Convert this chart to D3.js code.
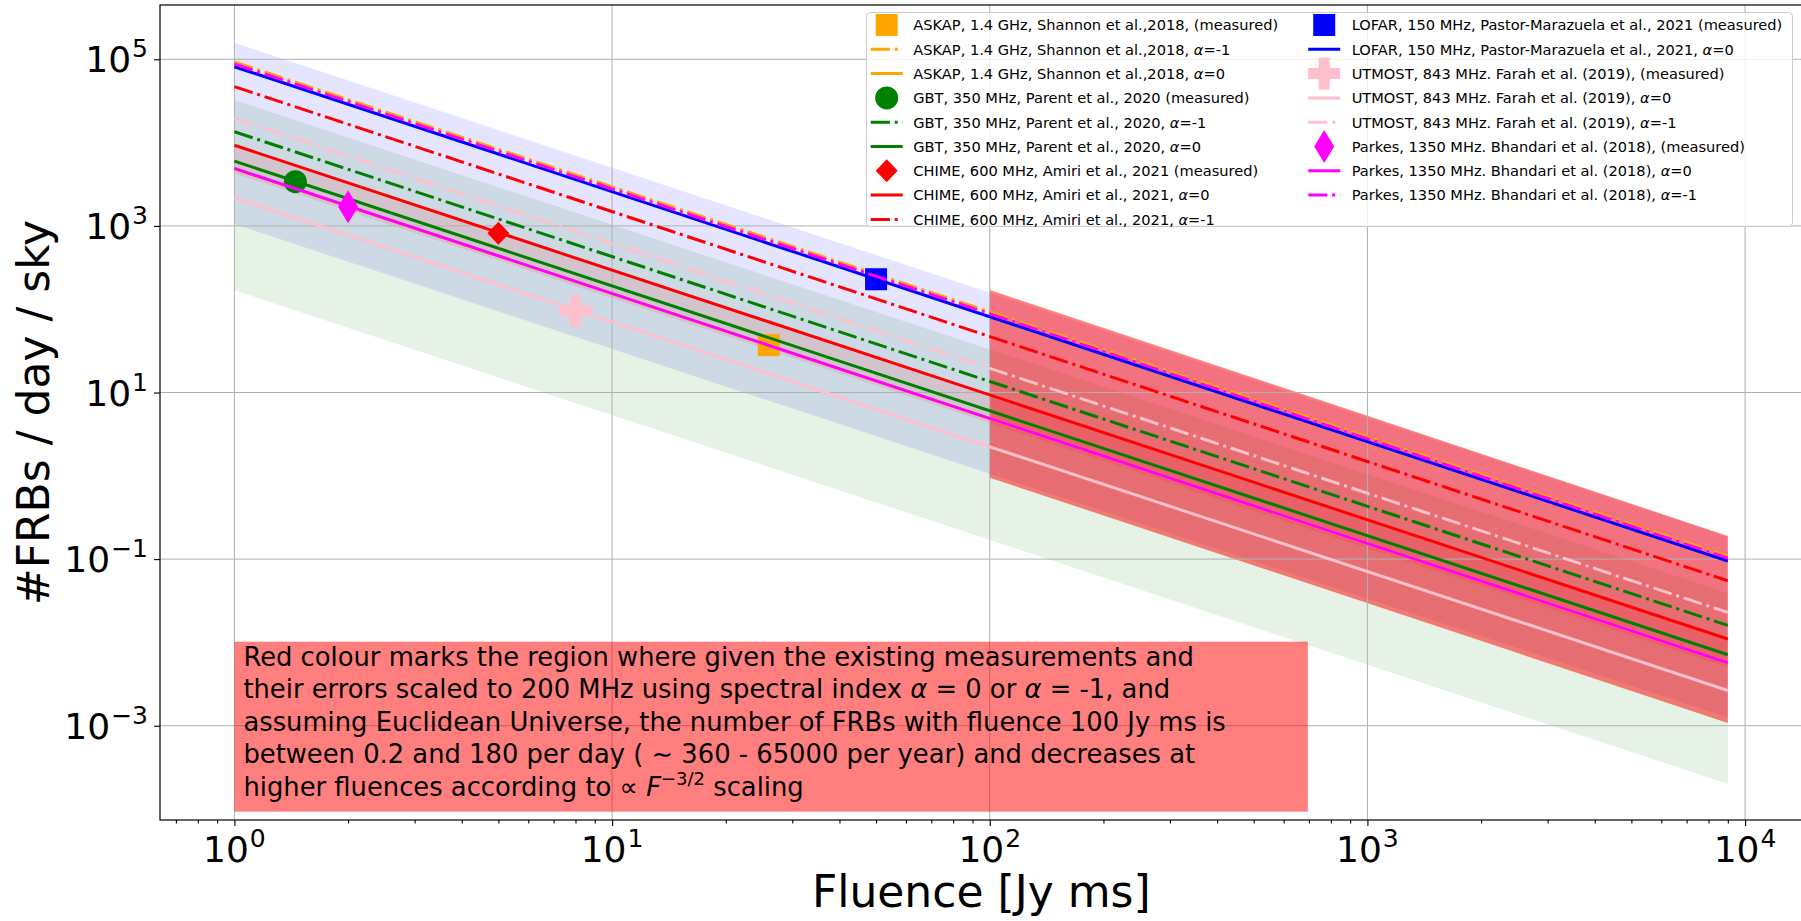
<!DOCTYPE html>
<html>
<head>
<meta charset="utf-8">
<script src="https://cdn.jsdelivr.net/npm/d3@7"></script>
<style>
  body { margin: 0; background: #fff; }
  svg { display: block; font-family: "DejaVu Sans", sans-serif; }
</style>
</head>
<body>
<div id="chart"></div>
<script>
//////////////////// data ////////////////////

// every scaled line is straight in log-log: fluence [Jy ms] at its two ends
const fluenceEnds = [1, 9000];
// rate [#FRBs / day / sky] at fluence 1 and at fluence 9000
const askapAlpha0  = [4.85e3, 5.7e-3];
const askapAlphaM1 = [9.3e4, 0.109];
const gbtAlpha0    = [6.0e3, 7.1e-3];
const gbtAlphaM1   = [1.35e4, 0.0160];
const chimeAlpha0  = [9.3e3, 0.0110];
const chimeAlphaM1 = [4.7e4, 0.055];
const lofarAlpha0  = [8.15e4, 0.0950];
const utmostAlpha0  = [2.2e3, 2.65e-3];
const utmostAlphaM1 = [1.95e4, 0.0229];
const parkesAlpha0  = [4.9e3, 5.7e-3];
const parkesAlphaM1 = [8.8e4, 0.103];

// measured points: fluence [Jy ms] and rate
const surveys       = ["ASKAP", "GBT", "CHIME", "LOFAR", "UTMOST", "Parkes"];
const measuredFluence = [26, 1.45, 5, 50, 8, 2];
const measuredRate    = [37, 3400, 815, 229, 95, 1700];

// shaded error bands, [upper at start, upper at end], [lower at start, lower at end]
const lofarBandUpper = [1.58e5, 0.185];
const lofarBandLower = [1.05e3, 1.25e-3];
const gbtBandUpper   = [3.25e4, 0.039];
const gbtBandLower   = [169, 2.0e-4];
const chimeBandUpper = [9.1e3, 0.0107];
const chimeBandLower = [4.3e3, 5.0e-3];
// red region only covers fluence 100 .. 9000
const redFluence    = [100, 9000];
const redBandUpper  = [170, 0.19];
const redBandLower  = [0.95, 1.08e-3];

// axes
const xLimits = [0.6353, 14191];
const yLimits = [7.38e-5, 4.487e5];
const xMajor = [1, 10, 100, 1000, 10000];
const yMajor = [1e-3, 1e-1, 1e1, 1e3, 1e5];

//////////////////// set up ////////////////////

const width = 1801, height = 921;
const plot = {left: 160, right: 1802.5, top: 5, bottom: 820};

let svg = d3.select("#chart")
            .append("svg")
            .attr("width", width)
            .attr("height", height);

let x = d3.scaleLog().domain(xLimits).range([plot.left, plot.right]);
let y = d3.scaleLog().domain(yLimits).range([plot.bottom, plot.top]);

svg.append("clipPath").attr("id", "plotClip")
   .append("rect")
   .attr("x", plot.left).attr("y", plot.top)
   .attr("width", plot.right - plot.left).attr("height", plot.bottom - plot.top);

let plotArea = svg.append("g").attr("clip-path", "url(#plotClip)");

// helpers to turn two-point arrays into point lists
function pts(fl, vals) { return fl.map((f, i) => ({f: f, v: vals[i]})); }
function bandPts(fl, up, lo) { return fl.map((f, i) => ({f: f, hi: up[i], lo: lo[i]})); }

let area = d3.area()
             .x(d => x(d.f))
             .y0(d => y(d.lo))
             .y1(d => y(d.hi));
let line = d3.line()
             .x(d => x(d.f))
             .y(d => y(d.v));

//////////////////// bands ////////////////////

const bands = [
  {f: fluenceEnds, up: lofarBandUpper, lo: lofarBandLower, color: "blue", op: 0.1},
  {f: fluenceEnds, up: gbtBandUpper,   lo: gbtBandLower,   color: "green", op: 0.1},
  {f: fluenceEnds, up: chimeBandUpper, lo: chimeBandLower, color: "red", op: 0.1},
  {f: redFluence,  up: redBandUpper,   lo: redBandLower,   color: "red", op: 0.5}
];
plotArea.selectAll("path.band")
        .data(bands)
        .enter()
        .append("path")
        .attr("class", "band")
        .attr("d", d => area(bandPts(d.f, d.up, d.lo)))
        .attr("fill", d => d.color)
        .attr("fill-opacity", d => d.op);

//////////////////// grid ////////////////////

plotArea.selectAll("line.xgrid")
        .data(xMajor).enter().append("line")
        .attr("x1", d => x(d)).attr("x2", d => x(d))
        .attr("y1", plot.top).attr("y2", plot.bottom)
        .attr("stroke", "#b0b0b0").attr("stroke-width", 1);
plotArea.selectAll("line.ygrid")
        .data(yMajor).enter().append("line")
        .attr("y1", d => y(d)).attr("y2", d => y(d))
        .attr("x1", plot.left).attr("x2", plot.right)
        .attr("stroke", "#b0b0b0").attr("stroke-width", 1);

//////////////////// lines + markers ////////////////////

const dashDot = "19.2,4.8,3,4.8";

// marker shapes, centred on 0,0
function markerPath(type) {
  if (type === "s") return "M-11,-11H11V11H-11Z";
  if (type === "o") return "M11.5,0A11.5,11.5 0 1,1 -11.5,0A11.5,11.5 0 1,1 11.5,0Z";
  if (type === "D") return "M0,-11.5L11,0L0,11.5L-11,0Z";
  if (type === "d") return "M0,-16.5L10,0L0,16.5L-10,0Z";
  if (type === "P") return "M-5.5,-16H5.5V-5.5H16V5.5H5.5V16H-5.5V5.5H-16V-5.5H-5.5Z";
  return "";
}

// plotting order (same as the legend order)
const layers = [
  {kind: "marker", survey: 0, color: "orange", marker: "s", label: "ASKAP, 1.4 GHz, Shannon et al.,2018, (measured)"},
  {kind: "dashdot", vals: askapAlphaM1, color: "orange", label: "ASKAP, 1.4 GHz, Shannon et al.,2018, α=-1"},
  {kind: "solid", vals: askapAlpha0, color: "orange", label: "ASKAP, 1.4 GHz, Shannon et al.,2018, α=0"},
  {kind: "marker", survey: 1, color: "green", marker: "o", label: "GBT, 350 MHz, Parent et al., 2020 (measured)"},
  {kind: "dashdot", vals: gbtAlphaM1, color: "green", label: "GBT, 350 MHz, Parent et al., 2020, α=-1"},
  {kind: "solid", vals: gbtAlpha0, color: "green", label: "GBT, 350 MHz, Parent et al., 2020, α=0"},
  {kind: "marker", survey: 2, color: "red", marker: "D", label: "CHIME, 600 MHz, Amiri et al., 2021 (measured)"},
  {kind: "solid", vals: chimeAlpha0, color: "red", label: "CHIME, 600 MHz, Amiri et al., 2021, α=0"},
  {kind: "dashdot", vals: chimeAlphaM1, color: "red", label: "CHIME, 600 MHz, Amiri et al., 2021, α=-1"},
  {kind: "marker", survey: 3, color: "blue", marker: "s", label: "LOFAR, 150 MHz, Pastor-Marazuela et al., 2021 (measured)"},
  {kind: "solid", vals: lofarAlpha0, color: "blue", label: "LOFAR, 150 MHz, Pastor-Marazuela et al., 2021, α=0"},
  {kind: "marker", survey: 4, color: "pink", marker: "P", label: "UTMOST, 843 MHz. Farah et al. (2019), (measured)"},
  {kind: "solid", vals: utmostAlpha0, color: "pink", label: "UTMOST, 843 MHz. Farah et al. (2019), α=0"},
  {kind: "dashdot", vals: utmostAlphaM1, color: "pink", label: "UTMOST, 843 MHz. Farah et al. (2019), α=-1"},
  {kind: "marker", survey: 5, color: "magenta", marker: "d", label: "Parkes, 1350 MHz. Bhandari et al. (2018), (measured)"},
  {kind: "solid", vals: parkesAlpha0, color: "magenta", label: "Parkes, 1350 MHz. Bhandari et al. (2018), α=0"},
  {kind: "dashdot", vals: parkesAlphaM1, color: "magenta", label: "Parkes, 1350 MHz. Bhandari et al. (2018), α=-1"}
];

layers.forEach(function(d) {
  if (d.kind === "marker") {
    plotArea.append("path")
            .attr("d", markerPath(d.marker))
            .attr("transform", `translate(${x(measuredFluence[d.survey])},${y(measuredRate[d.survey])})`)
            .attr("fill", d.color);
  } else {
    plotArea.append("path")
            .attr("d", line(pts(fluenceEnds, d.vals)))
            .attr("fill", "none")
            .attr("stroke", d.color)
            .attr("stroke-width", 3)
            .attr("stroke-dasharray", d.kind === "dashdot" ? dashDot : null);
  }
});

//////////////////// text box ////////////////////

const noteLines = [
  [{t: "Red colour marks the region where given the existing measurements and"}],
  [{t: "their errors scaled to 200 MHz using spectral index "}, {t: "α", it: true}, {t: " = 0 or "},
   {t: "α", it: true}, {t: " = -1, and"}],
  [{t: "assuming Euclidean Universe, the number of FRBs with fluence 100 Jy ms is"}],
  [{t: "between 0.2 and 180 per day ( ∼ 360 - 65000 per year) and decreases at"}],
  [{t: "higher fluences according to  ∝ "}, {t: "F", it: true}, {t: "−3/2", sup: true}, {t: " scaling", down: true}]
];

svg.append("rect")
   .attr("x", x(1)).attr("y", 641.7)
   .attr("width", 1307.8 - x(1)).attr("height", 170)
   .attr("fill", "red").attr("fill-opacity", 0.5);

let note = svg.append("text")
              .attr("font-size", 25.8)
              .attr("fill", "#000");
noteLines.forEach(function(segs, i) {
  let ln = note.append("tspan").attr("x", 243.4).attr("y", 666 + i * 32.4);
  segs.forEach(function(s) {
    let ts = ln.append("tspan").text(s.t);
    if (s.it) ts.attr("font-style", "italic");
    if (s.sup) ts.attr("font-size", 18).attr("dy", -11);
    if (s.down) ts.attr("dy", 11);
  });
});

//////////////////// axes ////////////////////

// major + minor ticks on x
let minorX = [];
[0.1, 1, 10, 100, 1000].forEach(b => { for (let k = 2; k <= 9; k++) minorX.push(b * k); });
minorX = minorX.filter(v => v > xLimits[0] && v < xLimits[1]);

let xAxis = svg.append("g")
               .attr("transform", `translate(0,${plot.bottom})`)
               .call(d3.axisBottom(x).tickValues(xMajor).tickSize(6).tickFormat(""));
xAxis.select(".domain").remove();
let xMinor = svg.append("g")
                .attr("transform", `translate(0,${plot.bottom})`)
                .call(d3.axisBottom(x).tickValues(minorX).tickSize(3.5).tickFormat(""));
xMinor.select(".domain").remove();
let yAxis = svg.append("g")
               .attr("transform", `translate(${plot.left},0)`)
               .call(d3.axisLeft(y).tickValues(yMajor).tickSize(6).tickFormat(""));
yAxis.select(".domain").remove();
svg.selectAll(".tick line").attr("stroke", "#000").attr("stroke-width", 1.1);

// tick labels like 10^5
function powerLabel(sel, exp) {
  sel.append("tspan").text("10");
  sel.append("tspan")
     .attr("dy", -15).attr("dx", 1)
     .attr("font-size", 25)
     .text(exp < 0 ? "\u2212" + (-exp) : String(exp));
}

xMajor.forEach(function(v) {
  svg.append("text")
     .attr("x", x(v)).attr("y", 861.5)
     .attr("text-anchor", "middle")
     .attr("font-size", 36)
     .call(powerLabel, Math.round(Math.log10(v)));
});
yMajor.forEach(function(v) {
  svg.append("text")
     .attr("x", 148).attr("y", y(v) + 13)
     .attr("text-anchor", "end")
     .attr("font-size", 36)
     .call(powerLabel, Math.round(Math.log10(v)));
});

// spines (right one falls off the canvas)
svg.append("rect")
   .attr("x", plot.left).attr("y", plot.top)
   .attr("width", plot.right - plot.left).attr("height", plot.bottom - plot.top)
   .attr("fill", "none").attr("stroke", "#000").attr("stroke-width", 1.2);

// axis titles
svg.append("text")
   .attr("x", (plot.left + plot.right) / 2).attr("y", 907)
   .attr("text-anchor", "middle")
   .attr("font-size", 44)
   .text("Fluence [Jy ms]");
svg.append("text")
   .attr("transform", `translate(49,${(plot.top + plot.bottom) / 2}) rotate(-90)`)
   .attr("text-anchor", "middle")
   .attr("font-size", 44)
   .text("#FRBs / day / sky");

//////////////////// legend ////////////////////

let legend = svg.append("g");
legend.append("rect")
      .attr("x", 866.5).attr("y", 12.5)
      .attr("width", 926).attr("height", 214)
      .attr("rx", 4)
      .attr("fill", "#fff").attr("fill-opacity", 0.8)
      .attr("stroke", "#cccccc").attr("stroke-width", 1);

const legendCols = [
  {handleX: 886.7, textX: 913.3, items: layers.slice(0, 9)},
  {handleX: 1324.2, textX: 1351.7, items: layers.slice(9)}
];
legendCols.forEach(function(col) {
  col.items.forEach(function(d, i) {
    let cy = 25 + i * 24.3;
    if (d.kind === "marker") {
      legend.append("path")
            .attr("d", markerPath(d.marker))
            .attr("transform", `translate(${col.handleX},${cy})`)
            .attr("fill", d.color);
    } else {
      legend.append("line")
            .attr("x1", col.handleX - 16).attr("x2", col.handleX + 16)
            .attr("y1", cy).attr("y2", cy)
            .attr("stroke", d.color).attr("stroke-width", 3)
            .attr("stroke-dasharray", d.kind === "dashdot" ? dashDot : null);
    }
    let txt = legend.append("text")
                    .attr("x", col.textX).attr("y", cy + 5.3)
                    .attr("font-size", 14.6);
    d.label.split("α").forEach(function(part, k) {
      if (k > 0) txt.append("tspan").attr("font-style", "italic").text("α");
      txt.append("tspan").text(part);
    });
  });
});
</script>
</body>
</html>
